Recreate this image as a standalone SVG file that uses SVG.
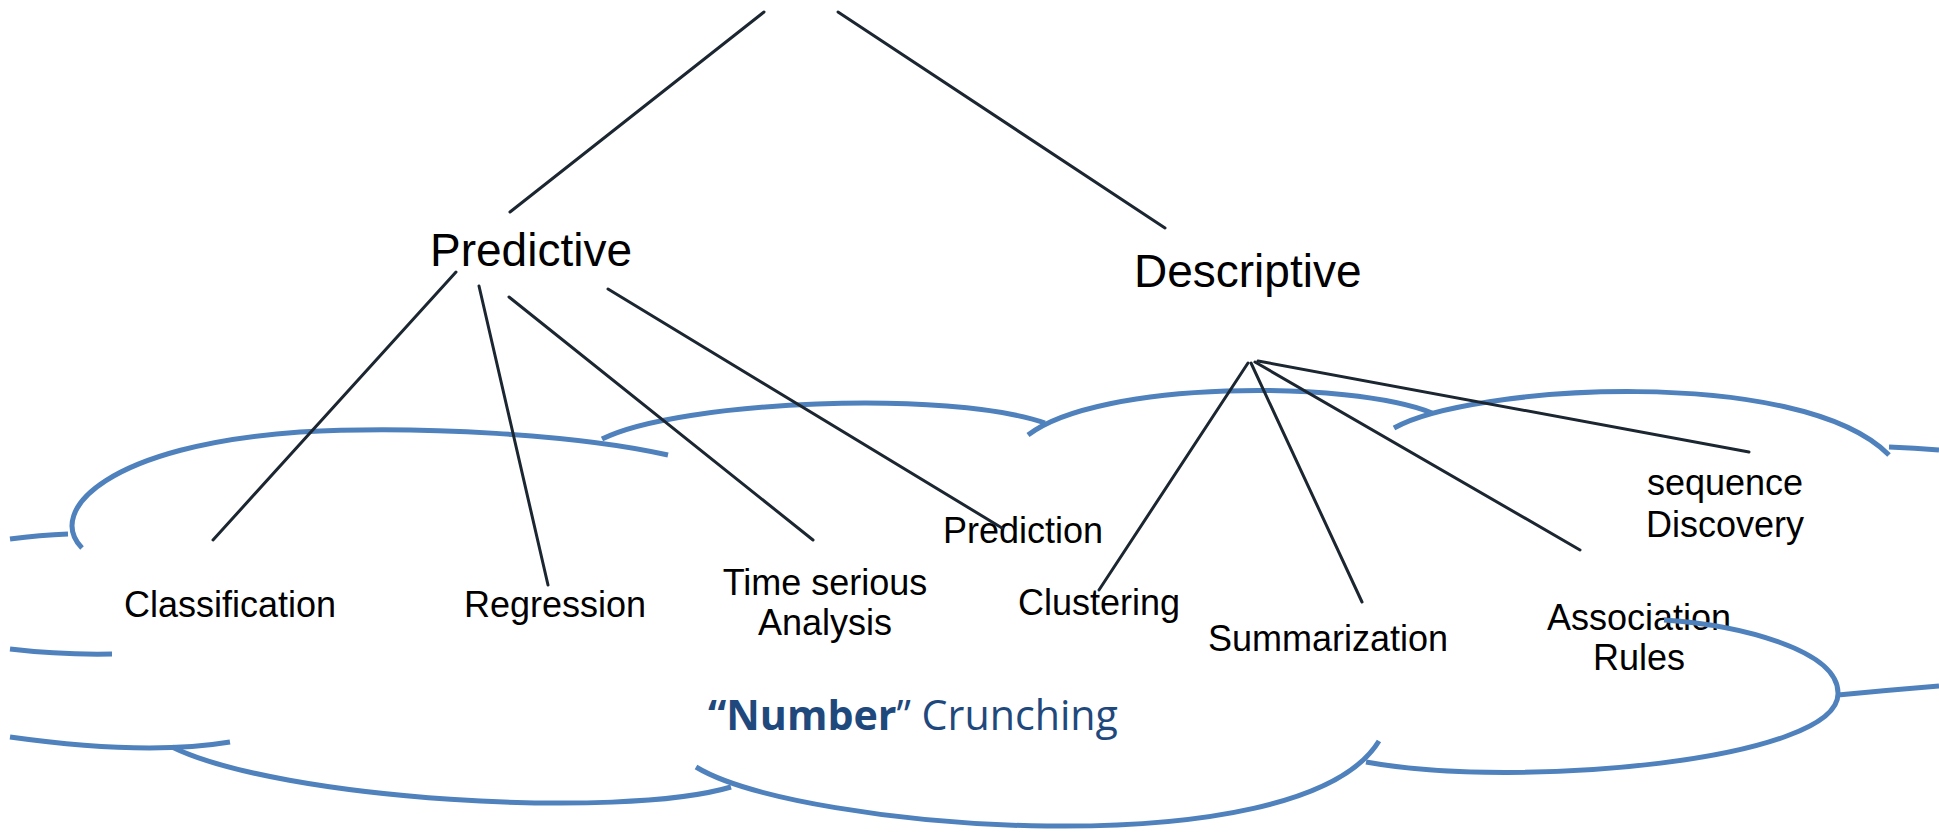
<svg xmlns="http://www.w3.org/2000/svg" width="1939" height="835" viewBox="0 0 1939 835">
<style>
.lbl{font-family:"Liberation Sans",Arial,sans-serif;font-size:36px;fill:#000}
.big{font-size:46px}
.cloud path{fill:none;stroke:#4F81BD;stroke-width:5;stroke-linecap:butt}
.conn line{stroke:#1b2631;stroke-width:3;stroke-linecap:round}
.nc{font-family:"Open Sans","Noto Sans",sans-serif;font-size:42px;fill:#1F497D}
</style>
<rect width="1939" height="835" fill="#fff"/>
<g id="nodes">
<g id="predictive"><text class="lbl big" x="430" y="266">Predictive</text></g>
<g id="descriptive"><text class="lbl big" x="1134" y="287">Descriptive</text></g>
<g id="classification"><text class="lbl" x="124" y="617">Classification</text></g>
<g id="regression"><text class="lbl" x="464" y="617">Regression</text></g>
<g id="time-series"><text class="lbl" x="825" y="595" text-anchor="middle">Time serious</text><text class="lbl" x="825" y="635" text-anchor="middle">Analysis</text></g>
<g id="prediction"><text class="lbl" x="943" y="543">Prediction</text></g>
<g id="clustering"><text class="lbl" x="1018" y="615">Clustering</text></g>
<g id="summarization"><text class="lbl" x="1208" y="651">Summarization</text></g>
<g id="association"><text class="lbl" x="1639" y="630" text-anchor="middle">Association</text><text class="lbl" x="1639" y="670" text-anchor="middle">Rules</text></g>
<g id="sequence"><text class="lbl" x="1725" y="495" text-anchor="middle">sequence</text><text class="lbl" x="1725" y="537" text-anchor="middle">Discovery</text></g>
<g id="number-crunching"><text class="nc" x="708" y="730" textLength="410" lengthAdjust="spacingAndGlyphs"><tspan font-weight="bold">“Number</tspan>” Crunching</text></g>
</g>
<g id="cloud" class="cloud">
<path d="M82,548 C45,510 110,445 300,432 C420,425 580,435 668,455"/>
<path d="M10,539 Q40,535 68,534"/>
<path d="M10,649 Q60,655 112,654"/>
<path d="M10,737 Q146,756 230,742"/>
<path d="M172,747 C280,800 620,820 731,787"/>
<path d="M696,767 C800,830 1300,870 1379,741"/>
<path d="M1366,762 C1520,790 1840,760 1838,693 C1838,650 1740,625 1664,620"/>
<path d="M1838,695 Q1890,690 1939,686"/>
<path d="M1394,428 C1470,385 1800,365 1889,455"/>
<path d="M1889,447 Q1915,448 1939,450"/>
<path d="M1028,435 C1100,380 1350,380 1432,413"/>
<path d="M602,439 C680,400 950,390 1045,423"/>
</g>
<g id="connectors" class="conn">
<line x1="764" y1="12" x2="510" y2="212"/>
<line x1="838" y1="12" x2="1165" y2="228"/>
<line x1="456" y1="272" x2="213" y2="540"/>
<line x1="479" y1="286" x2="548" y2="585"/>
<line x1="509" y1="297" x2="813" y2="540"/>
<line x1="608" y1="289" x2="1002" y2="528"/>
<line x1="1248" y1="363" x2="1099" y2="590"/>
<line x1="1251" y1="363" x2="1362" y2="602"/>
<line x1="1255" y1="362" x2="1580" y2="550"/>
<line x1="1258" y1="361" x2="1749" y2="452"/>
</g>
</svg>
